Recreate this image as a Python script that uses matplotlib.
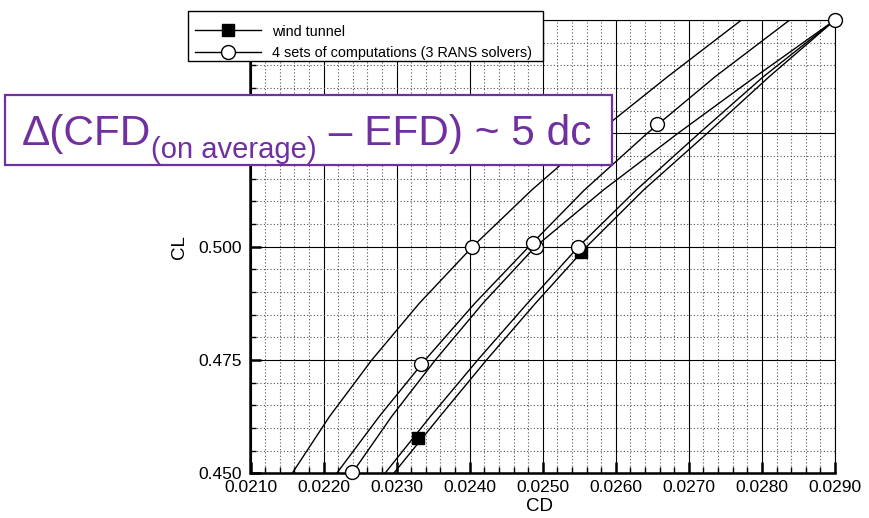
import matplotlib
matplotlib.use("Agg")
import matplotlib.pyplot as plt
from matplotlib.lines import Line2D
from matplotlib.patches import Rectangle
from matplotlib.ticker import MultipleLocator, FormatStrFormatter, FuncFormatter

plt.rcParams['font.family'] = ['Liberation Sans', 'DejaVu Sans']

# ---------------- data ----------------
cl_levels = [0.450, 0.4625, 0.475, 0.4875, 0.500, 0.5125, 0.525, 0.5375, 0.550]

# four computations (lines)
cd_comp1 = [0.02157, 0.02208, 0.02266, 0.02331, 0.02404, 0.02485, 0.02574, 0.02671, 0.02772]
cd_comp2 = [0.02218, 0.02276, 0.02339, 0.02407, 0.02481, 0.02557, 0.02643, 0.02736, 0.02838]
cd_comp3 = [0.02239, 0.02293, 0.02353, 0.02418, 0.02490, 0.02583, 0.02685, 0.02791, 0.02900]
cd_comp4 = [0.02284, 0.02346, 0.02411, 0.02479, 0.02549, 0.02628, 0.02714, 0.02802, 0.02900]
# wind tunnel (line)
cd_wt = [0.02296, 0.02359, 0.02423, 0.02490, 0.02560, 0.02638, 0.02725, 0.02810, 0.02900]

# symbols
wt_sym_cd = [0.02329, 0.02553]
wt_sym_cl = [0.4577, 0.4989]
comp_sym_cd = [0.02900, 0.02656, 0.02403, 0.02491, 0.02487, 0.02548, 0.02334, 0.02239]
comp_sym_cl = [0.550, 0.5270, 0.500, 0.500, 0.5009, 0.500, 0.4742, 0.4502]

x_min, x_max = 0.0210, 0.0290
y_min, y_max = 0.450, 0.550
y_labels_visible_max = 0.500   # higher labels are hidden under the note/legend

legend_labels = ["wind tunnel", "4 sets of computations (3 RANS solvers)"]
note_parts = ["\u0394(CFD", "(on average)", " \u2013 EFD) ~ 5 dc"]

purple = "#7030A0"
W, H = 870, 518

fig = plt.figure(figsize=(W / 100, H / 100), dpi=100)
ax = fig.add_axes([250.5 / W, 1 - 473.3 / H, (835 - 250.5) / W, (473.3 - 20) / H])

for cds in [cd_comp1, cd_comp2, cd_comp3, cd_comp4, cd_wt]:
    ax.plot(cds, cl_levels, color="black", lw=1.0, zorder=3)

ax.plot(wt_sym_cd, wt_sym_cl, ls="none", marker="s", ms=8, mfc="black",
        mec="black", zorder=4, clip_on=False)
ax.plot(comp_sym_cd, comp_sym_cl, ls="none", marker="o", ms=10, mfc="white",
        mec="black", mew=1.0, zorder=5, clip_on=False)

ax.set_xlim(x_min, x_max)
ax.set_ylim(y_min, y_max)
ax.xaxis.set_major_locator(MultipleLocator(0.001))
ax.xaxis.set_minor_locator(MultipleLocator(0.0002))
ax.yaxis.set_major_locator(MultipleLocator(0.025))
ax.yaxis.set_minor_locator(MultipleLocator(0.005))
ax.xaxis.set_major_formatter(FormatStrFormatter("%.4f"))
ax.yaxis.set_major_formatter(
    FuncFormatter(lambda v, p: "%.3f" % v if v <= y_labels_visible_max + 1e-9 else ""))

ax.grid(which="major", color="black", lw=0.8, ls="-")
ax.grid(which="minor", color="#555555", lw=0.8, ls=(0, (1, 2)))

ax.tick_params(which="major", direction="in", length=8, width=1.8,
               top=False, right=False, labelsize=12.5)
ax.tick_params(which="minor", direction="in", length=4, width=1.0,
               top=False, right=False)
ax.tick_params(axis="x", which="major", pad=4.5)
ax.tick_params(axis="y", which="major", pad=6)

for s in ["left", "bottom"]:
    ax.spines[s].set_linewidth(1.8)
for s in ["top", "right"]:
    ax.spines[s].set_linewidth(0.8)

ax.set_xlabel("CD", fontsize=13.5)
ax.set_ylabel("CL", fontsize=13.5)
ax.xaxis.set_label_coords(0.495, -0.055)
ax.yaxis.set_label_coords(-0.107, 0.5)

# legend: white frame drawn as a rectangle, entries on top
frame = Rectangle((188 / W, 1 - 60.7 / H), (543 - 188) / W, 50 / H,
                  transform=fig.transFigure, facecolor="white",
                  edgecolor="black", lw=1.0, zorder=5.5)
fig.add_artist(frame)
h1 = Line2D([], [], color="black", lw=1.0, marker="s", ms=8, mfc="black", mec="black")
h2 = Line2D([], [], color="black", lw=1.0, marker="o", ms=10, mfc="white", mec="black")
leg = fig.legend([h1, h2], legend_labels, loc="center left",
                 bbox_to_anchor=(195 / W, 1 - 42.5 / H), bbox_transform=fig.transFigure,
                 borderaxespad=0, borderpad=0, frameon=False,
                 fontsize=10.4, handlelength=4.6, handletextpad=0.75,
                 labelspacing=0.55)
leg.set_zorder(6)

# annotation box
box = Rectangle((5 / W, 1 - 165 / H), (612 - 5) / W, 70 / H, transform=fig.transFigure,
                facecolor="white", edgecolor=purple, lw=1.6, zorder=7)
fig.add_artist(box)

renderer = fig.canvas.get_renderer()
x = 22
base = 145
sizes = [30.5, 21, 30.5]
drops = [0, 13, 0]
for s, fs, dy in zip(note_parts, sizes, drops):
    t = fig.text(x / W, 1 - (base + dy) / H, s, fontsize=fs, color=purple,
                 ha="left", va="baseline", zorder=8)
    bb = t.get_window_extent(renderer=renderer)
    x = bb.x1

fig.savefig("out.png", dpi=100)
